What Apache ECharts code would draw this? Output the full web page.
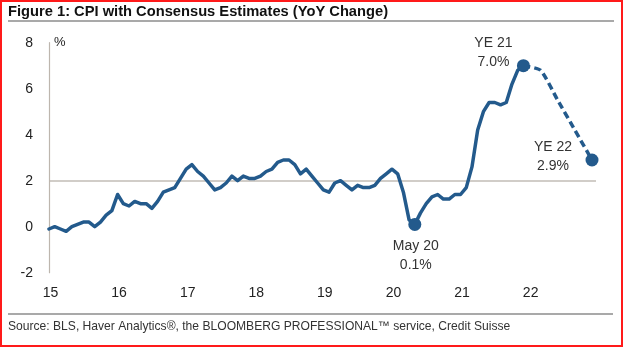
<!DOCTYPE html>
<html>
<head>
<meta charset="utf-8">
<script src="https://cdn.jsdelivr.net/npm/echarts@6/dist/echarts.min.js"></script>
<style>
html,body{margin:0;padding:0;background:#fff;}
#chart{width:624px;height:347px;}
</style>
</head>
<body>
<div id="chart"></div>
<script>
// Month index 0 = Jan 2015
const tickLabels = ['15','16','17','18','19','20','21','22'];
const cpiActual = [
  -0.1, 0.0, -0.1, -0.2, 0.0, 0.1, 0.2, 0.2, 0.0, 0.2, 0.5, 0.7,
  1.4, 1.0, 0.9, 1.1, 1.0, 1.0, 0.8, 1.1, 1.5, 1.6, 1.7, 2.1,
  2.5, 2.7, 2.4, 2.2, 1.9, 1.6, 1.7, 1.9, 2.2, 2.0, 2.2, 2.1,
  2.1, 2.2, 2.4, 2.5, 2.8, 2.9, 2.9, 2.7, 2.3, 2.5, 2.2, 1.9,
  1.6, 1.5, 1.9, 2.0, 1.8, 1.6, 1.8, 1.7, 1.7, 1.8, 2.1, 2.3,
  2.5, 2.3, 1.5, 0.3, 0.1, 0.6, 1.0, 1.3, 1.4, 1.2, 1.2, 1.4,
  1.4, 1.7, 2.6, 4.2, 5.0, 5.4, 5.4, 5.3, 5.4, 6.2, 6.8, 7.0
];
const forecastMonths = [83, 86, 89, 92, 95];
const forecastValues = [7.0, 6.8, 5.5, 4.2, 2.9];
const keyMonths = [64, 83, 95];
const keyValues = [0.1, 7.0, 2.9];
const keyNames = ['May 20', 'YE 21', 'YE 22'];
const keyLabelOffsets = [[1, 31], [-30, -13], [-39, -3]];

const FONT = '"Liberation Sans", Arial, Helvetica, sans-serif';
const BLUE = '#235a8c';

const actualData = cpiActual.map((v, i) => [i, v]);
const forecastData = forecastMonths.map((m, i) => [m, forecastValues[i]]);
const keyData = keyMonths.map((m, i) => ({
  value: [m, keyValues[i]],
  name: keyNames[i],
  label: { offset: keyLabelOffsets[i] }
}));

const chart = echarts.init(document.getElementById('chart'), null, {renderer: 'canvas'});
chart.setOption({
  animation: false,
  backgroundColor: '#fff',
  textStyle: { fontFamily: FONT },
  grid: { left: 49, right: 28, top: 42.7, bottom: 74.3, containLabel: false },
  xAxis: {
    type: 'value',
    min: 0,
    max: 95.7,
    interval: 12,
    axisLine: { show: false },
    axisTick: { show: false },
    splitLine: { show: false },
    axisLabel: {
      color: '#222',
      fontSize: 14,
      fontFamily: FONT,
      margin: 13,
      padding: [0, 0, 0, 3],
      showMaxLabel: false,
      formatter: function (v) {
        const k = v / 12;
        return Number.isInteger(k) && tickLabels[k] !== undefined ? tickLabels[k] : '';
      }
    }
  },
  yAxis: {
    type: 'value',
    min: -2,
    max: 8,
    interval: 2,
    name: '%',
    nameLocation: 'end',
    nameGap: 0,
    nameTextStyle: { color: '#222', fontSize: 13, fontFamily: FONT, align: 'left', verticalAlign: 'middle', padding: [0, 0, 0, 5] },
    axisLine: { show: true, lineStyle: { color: '#bdb6ae', width: 1.2 } },
    axisTick: { show: false },
    axisLabel: { color: '#222', fontSize: 14, fontFamily: FONT, margin: 16 },
    splitLine: {
      show: true,
      lineStyle: { color: ['rgba(0,0,0,0)', 'rgba(0,0,0,0)', '#c2bcb6', 'rgba(0,0,0,0)', 'rgba(0,0,0,0)', 'rgba(0,0,0,0)'], width: 1.5 }
    }
  },
  series: [
    {
      type: 'line',
      data: actualData,
      showSymbol: false,
      symbol: 'none',
      lineStyle: { color: BLUE, width: 3.5, cap: 'round', join: 'round' },
      z: 3
    },
    {
      type: 'line',
      data: forecastData,
      showSymbol: false,
      symbol: 'none',
      smooth: 0.2,
      lineStyle: { color: BLUE, width: 3.5, type: [7, 4] },
      z: 3
    },
    {
      type: 'scatter',
      data: keyData,
      symbol: 'circle',
      symbolSize: 13,
      itemStyle: { color: BLUE, opacity: 1 },
      z: 4,
      label: {
        show: true,
        position: 'inside',
        color: '#333',
        fontSize: 14,
        fontFamily: FONT,
        lineHeight: 19,
        align: 'center',
        verticalAlign: 'middle',
        formatter: function (p) {
          return p.name + '\n' + p.value[1].toFixed(1) + '%';
        }
      }
    }
  ],
  graphic: [
    {
      type: 'text',
      left: 8,
      top: 4,
      style: { text: 'Figure 1: CPI with Consensus Estimates (YoY Change)', fill: '#111', font: 'bold 14.7px ' + FONT }
    },
    { type: 'line', shape: { x1: 8, y1: 21, x2: 614, y2: 21 }, style: { stroke: '#555', lineWidth: 1.2 } },
    { type: 'line', shape: { x1: 8, y1: 314, x2: 613, y2: 314 }, style: { stroke: '#555', lineWidth: 1.2 } },
    {
      type: 'text',
      left: 8,
      top: 321,
      style: { text: 'Source: BLS, Haver Analytics®, the BLOOMBERG PROFESSIONAL™ service, Credit Suisse', fill: '#333', font: '12.1px ' + FONT }
    },
    { type: 'rect', shape: { x: 1, y: 1, width: 621, height: 345 }, style: { fill: 'none', stroke: '#ff1a1a', lineWidth: 2 }, z: 100 }
  ]
});
</script>
</body>
</html>
